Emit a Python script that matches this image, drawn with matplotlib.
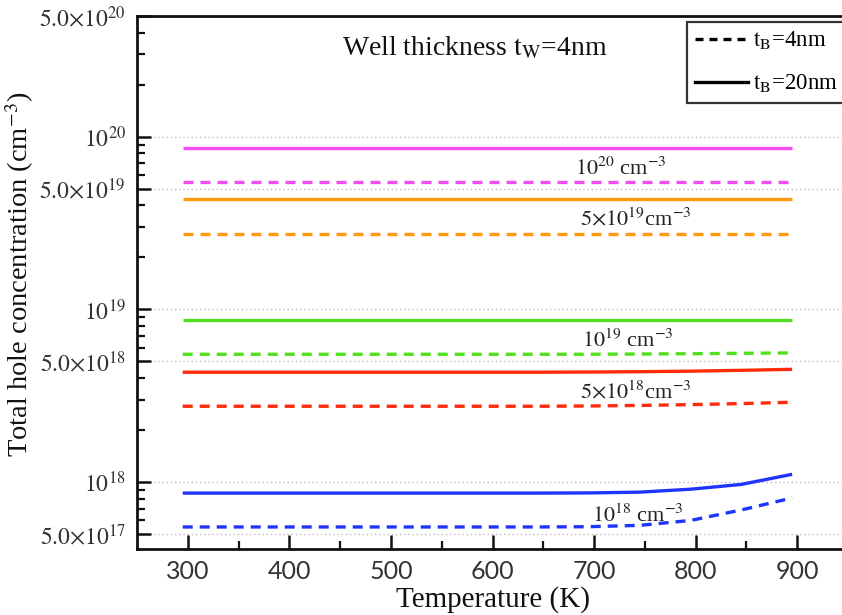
import matplotlib
matplotlib.use("Agg")
import matplotlib.pyplot as plt
from matplotlib.lines import Line2D
from matplotlib.ticker import LogLocator, FixedLocator, NullFormatter, FixedFormatter

plt.rcParams['font.family'] = ['Liberation Serif', 'DejaVu Serif']
plt.rcParams['mathtext.fontset'] = 'stix'

# Temperature grid (K)
temperature = [295, 345, 395, 445, 495, 545, 595, 645, 695, 745, 795, 845, 895]

# Total hole concentration (cm^-3) for each doping level, barrier 4 nm (dashed) and 20 nm (solid)
p_1e20_tb20 = [8.64e19] * 13
p_1e20_tb4 = [5.5e19] * 13
p_5e19_tb20 = [4.33e19] * 13
p_5e19_tb4 = [2.75e19] * 13
p_1e19_tb20 = [8.64e18] * 13
p_1e19_tb4 = [5.5e18, 5.5e18, 5.5e18, 5.5e18, 5.5e18, 5.5e18, 5.5e18, 5.5e18, 5.5e18, 5.52e18, 5.54e18, 5.57e18, 5.6e18]
p_5e18_tb20 = [4.33e18, 4.33e18, 4.33e18, 4.33e18, 4.33e18, 4.33e18, 4.33e18, 4.33e18, 4.34e18, 4.36e18, 4.39e18, 4.44e18, 4.5e18]
p_5e18_tb4 = [2.75e18, 2.75e18, 2.75e18, 2.75e18, 2.75e18, 2.75e18, 2.75e18, 2.75e18, 2.76e18, 2.78e18, 2.81e18, 2.85e18, 2.9e18]
p_1e18_tb20 = [8.64e17, 8.64e17, 8.64e17, 8.64e17, 8.64e17, 8.64e17, 8.64e17, 8.64e17, 8.66e17, 8.75e17, 9.1e17, 9.7e17, 1.11e18]
p_1e18_tb4 = [5.5e17, 5.5e17, 5.5e17, 5.5e17, 5.5e17, 5.5e17, 5.5e17, 5.5e17, 5.52e17, 5.62e17, 6.0e17, 6.9e17, 8.1e17]

series = [
    (p_1e20_tb20, p_1e20_tb4, '#f24cf2'),
    (p_5e19_tb20, p_5e19_tb4, '#ff9a0a'),
    (p_1e19_tb20, p_1e19_tb4, '#52e01e'),
    (p_5e18_tb20, p_5e18_tb4, '#ff2a0a'),
    (p_1e18_tb20, p_1e18_tb4, '#1f35ff'),
]

doping_labels = [r'$10^{20}$ cm$^{-3}$', r'$5{\times}10^{19}$cm$^{-3}$',
                 r'$10^{19}$ cm$^{-3}$', r'$5{\times}10^{18}$cm$^{-3}$',
                 r'$10^{18}$ cm$^{-3}$']
label_pos = [(726, 6.55e19), (741, 3.34e19), (733, 6.55e18), (741, 3.34e18), (743, 6.4e17)]

y_major = [5e17, 1e18, 5e18, 1e19, 5e19, 1e20, 5e20]
y_major_labels = [r'$5.0{\times}10^{17}$', r'$10^{18}$', r'$5.0{\times}10^{18}$',
                  r'$10^{19}$', r'$5.0{\times}10^{19}$', r'$10^{20}$', r'$5.0{\times}10^{20}$']
x_ticks = [300, 400, 500, 600, 700, 800, 900]

fig = plt.figure(figsize=(8.42, 6.15), dpi=100)
ax = fig.add_axes([137 / 842, 1 - 549 / 615, 711 / 842, 533 / 615])

dash = (0, (3.0, 2.1))
for solid, dashed, color in series:
    ax.plot(temperature, solid, color=color, lw=2.4, solid_capstyle='butt')
    ax.plot(temperature, dashed, color=color, lw=2.4, linestyle=dash, dash_capstyle='butt')

for text, (x, y) in zip(doping_labels, label_pos):
    ax.text(x, y, text, fontsize=16, ha='center', va='center', color='#222222')

ax.set_yscale('log')
ax.set_xlim(250, 950)
ax.set_ylim(4.1e17, 5e20)

ax.yaxis.set_major_locator(FixedLocator(y_major))
ax.yaxis.set_major_formatter(FixedFormatter(y_major_labels))
ax.yaxis.set_minor_locator(LogLocator(base=10, subs=[2, 3, 4, 6, 7, 8, 9], numticks=20))
ax.yaxis.set_minor_formatter(NullFormatter())
ax.set_xticks(x_ticks)
ax.set_xticks([350, 450, 550, 650, 750, 850], minor=True)

for v in y_major:
    ax.axhline(v, color='#bbbbbb', lw=1.0, linestyle=(0, (1, 2)), zorder=0)

ax.tick_params(axis='both', which='major', direction='in', length=10, width=1.8,
               colors='#111111', labelcolor='#333333')
ax.tick_params(axis='both', which='minor', direction='in', length=5.5, width=1.6,
               colors='#111111')
ax.tick_params(axis='y', labelsize=17, pad=8)
ax.tick_params(axis='x', labelsize=18, pad=8)
for lbl in ax.get_xticklabels():
    lbl.set_fontfamily('Lato')

for sp in ax.spines.values():
    sp.set_linewidth(2.0)
    sp.set_color('#111111')

ax.set_xlabel('Temperature (K)', fontsize=21, labelpad=2, color='#111111')
ax.set_ylabel(r'Total hole concentration (cm$^{-3}$)', fontsize=20.5, color='#111111')
ax.yaxis.set_label_coords(-0.142, 0.515)

fig.text(475 / 842, 1 - 48 / 615, r'Well thickness $\mathrm{t_W}$=4nm', fontsize=20,
         ha='center', va='center', color='#111111')

handles = [Line2D([], [], color='black', lw=2.4, linestyle=(0, (2.4, 1.8))),
           Line2D([], [], color='black', lw=2.4)]
leg = fig.legend(handles, [r'$\mathrm{t_B}$=4nm', r'$\mathrm{t_B}$=20nm'],
                 loc='upper left', bbox_to_anchor=(687 / 842, 1 - 22 / 615),
                 bbox_transform=fig.transFigure, fontsize=16.5, frameon=True,
                 fancybox=False, edgecolor='black', handlelength=2.3, handletextpad=0.25,
                 borderpad=0.35, labelspacing=0.9, borderaxespad=0)
leg.get_frame().set_linewidth(1.6)

fig.savefig('out.png', dpi=100)
